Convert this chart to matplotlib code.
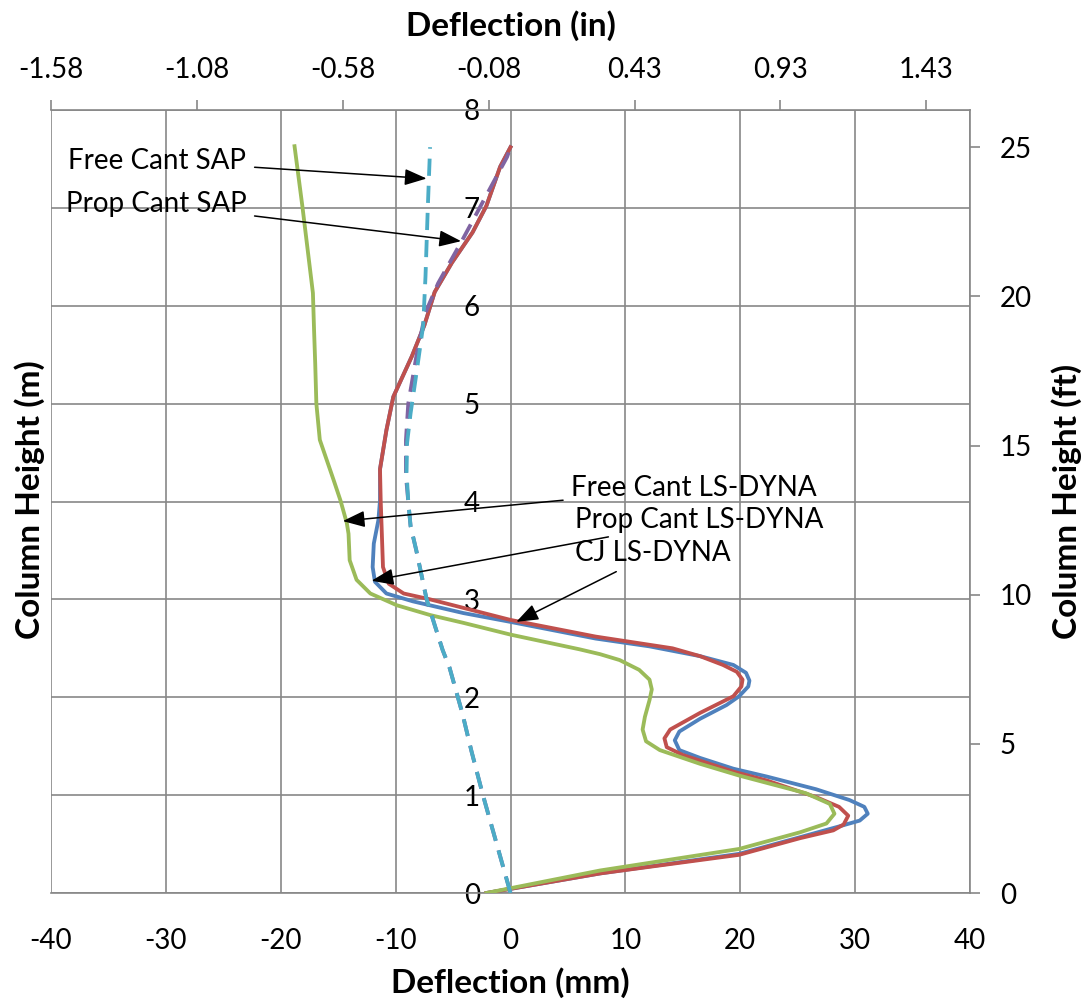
import matplotlib
matplotlib.use("Agg")
import matplotlib.pyplot as plt

plt.rcParams['font.family'] = ['Lato', 'DejaVu Sans']
plt.rcParams['axes.unicode_minus'] = False

# deflection (mm) vs column height (m)
free_ls_x = [-2.1, 7.8, 19.9, 25.2, 28.6, 30.4, 31.1, 30.8, 29.5, 26.6, 22.3, 19.4, 16.5, 14.7,
             14.3, 14.7, 16.5, 18.8, 19.9, 20.7, 20.8, 20.5, 19.4, 16.5, 12.1, 7.4, 0, -4.1,
             -8.5, -10.8, -11.8, -12.0, -11.9, -11.5, -11.36, -11.36, -10.8, -10.2, -8.6, -7.5,
             -6.6, -5.1, -3.3, -2.1, -0.9, 0]
free_ls_y = [0, 0.20, 0.40, 0.57, 0.68, 0.74, 0.81, 0.88, 0.95, 1.06, 1.19, 1.27, 1.38, 1.46,
             1.56, 1.65, 1.78, 1.92, 2.01, 2.11, 2.17, 2.25, 2.33, 2.42, 2.52, 2.60, 2.77, 2.86,
             2.98, 3.06, 3.18, 3.33, 3.57, 3.81, 4.01, 4.33, 4.73, 5.07, 5.48, 5.80,
             6.14, 6.44, 6.75, 7.02, 7.42, 7.62]

prop_ls_x = [-2.1, 7.8, 19.9, 25.2, 28.1, 29.0, 29.4, 28.6, 26.6, 22.3, 19.4, 15.0, 13.6, 13.4,
             13.9, 16.5, 19.4, 20.1, 20.2, 19.7, 18.5, 16.5, 14.1, 7.4, 0, -7.0, -9.3, -10.6,
             -11.1, -11.2, -11.3, -11.36, -10.8, -10.2, -8.6, -7.5, -6.6, -5.1, -3.3, -2.1,
             -0.9, 0]
prop_ls_y = [0, 0.20, 0.39, 0.56, 0.64, 0.70, 0.79, 0.88, 0.98, 1.15, 1.24, 1.41, 1.49, 1.58,
             1.67, 1.84, 2.01, 2.11, 2.18, 2.26, 2.33, 2.42, 2.50, 2.62, 2.79, 3.0, 3.06, 3.16,
             3.33, 3.67, 4.01, 4.33, 4.73, 5.07, 5.48, 5.80, 6.14, 6.44, 6.75, 7.02,
             7.42, 7.62]

cj_ls_x = [-2.1, 7.8, 19.9, 25.2, 27.5, 28.2, 27.8, 25.7, 19.9, 16.5, 13.0, 11.8, 11.5, 11.7,
           12.1, 12.3, 12.1, 11.2, 9.5, 7.8, 6.0, 0, -4.1, -7.0, -9.9, -12.2, -13.4, -14.0,
           -14.1, -14.25, -14.8, -15.4, -16.6, -16.9, -17.0, -17.1, -17.2, -18.1, -18.8]
cj_ls_y = [0, 0.23, 0.45, 0.62, 0.71, 0.81, 0.91, 1.02, 1.20, 1.32, 1.46, 1.55, 1.67, 1.80,
           1.97, 2.08, 2.18, 2.28, 2.38, 2.44, 2.49, 2.64, 2.76, 2.84, 2.94, 3.06, 3.20, 3.40,
           3.67, 3.78, 4.01, 4.22, 4.63, 5.0, 5.41, 5.75, 6.13, 7.0, 7.63]

free_sap_x = [0, -1.2, -2.4, -3.4, -4.2, -5.3, -5.9, -6.5, -7.3, -8.2, -8.7, -8.9, -9.05, -9.0,
              -8.7, -8.2, -7.6, -7.4, -7.2, -7.0]
free_sap_y = [0, 0.5, 1.0, 1.45, 1.84, 2.3, 2.48, 2.7, 3.0, 3.5, 3.75, 4.0, 4.3, 4.6,
              4.9, 5.3, 5.8, 6.3, 7.0, 7.62]

prop_sap_x = [0, -1.2, -2.4, -3.4, -4.2, -5.3, -5.9, -6.5, -7.3, -8.2, -8.7, -8.9, -9.1, -9.1,
              -8.9, -8.2, -7.4, -6.3, -4.2, -2.0, -0.3, 0]
prop_sap_y = [0, 0.5, 1.0, 1.45, 1.84, 2.3, 2.48, 2.7, 3.0, 3.5, 3.75, 4.0, 4.26, 4.63,
              5.0, 5.48, 5.93, 6.23, 6.67, 7.15, 7.52, 7.62]

x_ticks = [-40, -30, -20, -10, 0, 10, 20, 30, 40]
y_ticks = [0, 1, 2, 3, 4, 5, 6, 7, 8]
in_ticks = [-40 / 25.4 + 0.5 * k for k in range(7)]
in_labels = ['-1.58', '-1.08', '-0.58', '-0.08', '0.43', '0.93', '1.43']
ft_ticks = [0, 5, 10, 15, 20, 25]

grid_col = '#878787'
lw = 2.75
dash = (0, (4.5, 2.6))

fig = plt.figure(figsize=(10.9, 10.06), dpi=100)
ax = fig.add_axes([51 / 1090, 1 - 893 / 1006, (970 - 51) / 1090, (893 - 110) / 1006])

ax.plot(free_ls_x, free_ls_y, color='#4F81BD', lw=lw, zorder=3, solid_joinstyle='round')
ax.plot(prop_ls_x, prop_ls_y, color='#C0504D', lw=lw, zorder=4, solid_joinstyle='round')
ax.plot(cj_ls_x, cj_ls_y, color='#9BBB59', lw=lw, zorder=5, solid_joinstyle='round')
ax.plot(prop_sap_x, prop_sap_y, color='#8064A2', lw=lw, ls=dash, zorder=6)
ax.plot(free_sap_x, free_sap_y, color='#4BACC6', lw=lw, ls=dash, zorder=7)

ax.set_xlim(-40, 40)
ax.set_ylim(0, 8)
ax.set_xticks(x_ticks)
ax.set_yticks(y_ticks)
ax.grid(True, color=grid_col, lw=1.2)
ax.set_axisbelow(True)

for s in ['top', 'right', 'bottom']:
    ax.spines[s].set_color(grid_col)
    ax.spines[s].set_linewidth(1.2)
ax.spines['left'].set_position(('data', 0))
ax.spines['left'].set_visible(False)

ax.tick_params(axis='x', length=0, pad=25, labelsize=20)
ax.tick_params(axis='y', length=0, pad=22, labelsize=20)
ax.set_xlabel('Deflection (mm)', fontsize=24, fontweight='bold', labelpad=10)
fig.text(30 / 1090, 1 - 500 / 1006, 'Column Height (m)', rotation=90, fontsize=24,
         fontweight='bold', ha='center', va='center')

top = ax.secondary_xaxis('top', functions=(lambda v: v / 25.4, lambda v: v * 25.4))
top.set_xticks(in_ticks)
top.set_xticklabels(in_labels)
top.tick_params(direction='out', length=7.5, width=1.2, color=grid_col, labelsize=20, pad=12)
top.spines['top'].set_visible(False)
top.set_xlabel('Deflection (in)', fontsize=24, fontweight='bold', labelpad=15)

right = ax.secondary_yaxis('right', functions=(lambda v: v / 0.3048, lambda v: v * 0.3048))
right.set_yticks(ft_ticks)
right.tick_params(direction='out', length=7.5, width=1.2, color=grid_col, labelsize=20, pad=14)
right.spines['right'].set_visible(False)
right.set_ylabel('Column Height (ft)', fontsize=24, fontweight='bold', labelpad=14)

arrow = dict(arrowstyle='-|>,head_length=0.75,head_width=0.28', color='black', lw=1.1,
             mutation_scale=18, shrinkA=4, shrinkB=0)
ax.annotate('Free Cant SAP', xy=(-7.3, 7.3), xytext=(-23.0, 7.48), fontsize=20,
            ha='right', va='center', arrowprops=arrow, zorder=10)
ax.annotate('Prop Cant SAP', xy=(-4.3, 6.66), xytext=(-23.0, 7.04), fontsize=20,
            ha='right', va='center', arrowprops=arrow, zorder=10)
ax.annotate('Free Cant LS-DYNA', xy=(-14.6, 3.8), xytext=(5.3, 4.14), fontsize=20,
            ha='left', va='center', arrowprops=arrow, zorder=10)
ax.annotate('Prop Cant LS-DYNA', xy=(-12.1, 3.19), xytext=(5.6, 3.81), fontsize=20,
            ha='left', va='center', arrowprops=arrow, zorder=10)
ax.annotate('CJ LS-DYNA', xy=(0.5, 2.77), xytext=(5.6, 3.47), fontsize=20,
            ha='left', va='center', arrowprops=arrow, zorder=10)

fig.savefig('out.png', dpi=100)
